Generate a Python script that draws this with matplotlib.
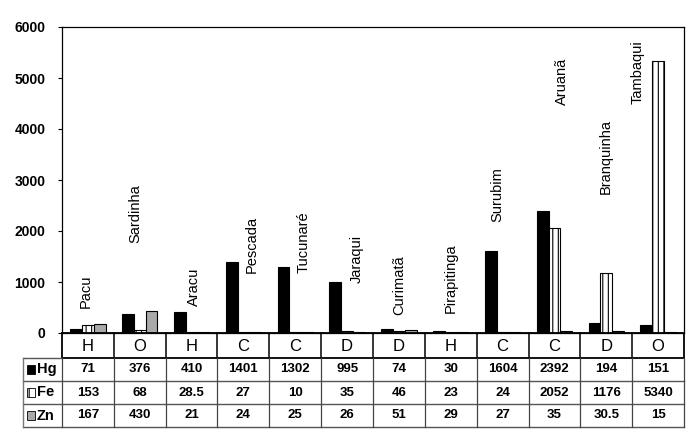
import matplotlib
matplotlib.use("Agg")
import matplotlib.pyplot as plt
import matplotlib.transforms as mtransforms
from matplotlib.patches import Rectangle
import numpy as np

plt.rcParams['font.family'] = ['Liberation Sans', 'DejaVu Sans']
plt.rcParams['hatch.linewidth'] = 0.8

fish = ["Pacu", "Sardinha", "Aracu", "Pescada", "Tucunaré", "Jaraqui",
        "Curimatã", "Pirapitinga", "Surubim", "Aruanã", "Branquinha", "Tambaqui"]
diet = ["H", "O", "H", "C", "C", "D", "D", "H", "C", "C", "D", "O"]
hg = [71, 376, 410, 1401, 1302, 995, 74, 30, 1604, 2392, 194, 151]
fe = [153, 68, 28.5, 27, 10, 35, 46, 23, 24, 2052, 1176, 5340]
zn = [167, 430, 21, 24, 25, 26, 51, 29, 27, 35, 30.5, 15]
hg_txt = ["71", "376", "410", "1401", "1302", "995", "74", "30", "1604", "2392", "194", "151"]
fe_txt = ["153", "68", "28.5", "27", "10", "35", "46", "23", "24", "2052", "1176", "5340"]
zn_txt = ["167", "430", "21", "24", "25", "26", "51", "29", "27", "35", "30.5", "15"]
yticks = [0, 1000, 2000, 3000, 4000, 5000, 6000]

# label placement (layout only)
label_y = [490, 1765, 530, 1180, 1180, 980, 350, 390, 2180, 4470, 2720, 4500]
label_dx = [-0.04, -0.09, 0.04, 0.17, 0.17, 0.19, 0.0, 0.0, -0.1, 0.15, 0.0, -0.4]

fig = plt.figure(figsize=(7, 4.43), dpi=100)
ax = fig.add_axes([62/700, 1 - 333/443, (684-62)/700, (333-27)/443])

x = np.arange(len(fish))
w = 0.228
ax.bar(x - w, hg, w, color='black', edgecolor='black', linewidth=0.8)
ax.bar(x, fe, w, color='white', edgecolor='black', linewidth=0.8, hatch='|||')
ax.bar(x + w, zn, w, color='#a9a9a9', edgecolor='black', linewidth=0.8)

ax.set_xlim(-0.5, len(fish) - 0.5)
ax.set_ylim(0, 6000)
ax.set_yticks(yticks)
ax.set_yticklabels([str(t) for t in yticks], fontweight='bold', fontsize=10)
ax.tick_params(axis='y', direction='out', length=3, width=0.8, pad=9)
ax.set_xticks([])
for s in ax.spines.values():
    s.set_linewidth(0.9)

for i, name in enumerate(fish):
    ax.text(i + label_dx[i], label_y[i], name, rotation=90, ha='center', va='bottom',
            fontsize=10.5)

# table below
tr = mtransforms.blended_transform_factory(ax.transData, ax.transAxes)
px_y = 1.0 / 306.0
y_h0, y_h1 = 0.0, -25 * px_y
y_rows = [y_h1, -48 * px_y, -71 * px_y, -94 * px_y]
x_left = -0.5 - 39 / 51.83
x_right = len(fish) - 0.5

# diet row box
ax.plot([-0.5, x_right, x_right, -0.5, -0.5], [y_h0, y_h0, y_h1, y_h1, y_h0],
        transform=tr, color='black', lw=1.3, clip_on=False)
for b in range(1, len(fish)):
    ax.plot([b - 0.5, b - 0.5], [y_h0, y_h1], transform=tr, color='black', lw=1.1, clip_on=False)
for i, d in enumerate(diet):
    ax.text(i, (y_h0 + y_h1) / 2 - 1 * px_y, d, transform=tr, ha='center', va='center',
            fontsize=12)

# data rows
for yy in y_rows[1:]:
    ax.plot([x_left, x_right], [yy, yy], transform=tr, color='#555555', lw=1.0, clip_on=False)
ax.plot([x_left, -0.5], [y_rows[0], y_rows[0]], transform=tr, color='#555555', lw=1.0, clip_on=False)
ax.plot([x_left, x_left], [y_rows[0], y_rows[-1]], transform=tr, color='#777777', lw=1.0, clip_on=False)
for b in range(0, len(fish) + 1):
    ax.plot([b - 0.5, b - 0.5], [y_rows[0], y_rows[-1]], transform=tr,
            color='#444444', lw=0.9, clip_on=False)

rows = [hg_txt, fe_txt, zn_txt]
names = ["Hg", "Fe", "Zn"]
for r in range(3):
    yc = (y_rows[r] + y_rows[r + 1]) / 2
    for i in range(len(fish)):
        ax.text(i, yc, rows[r][i], transform=tr, ha='center', va='center',
                fontsize=9.5, fontweight='bold')
    ax.text(x_left + 0.27, yc, names[r], transform=tr, ha='left', va='center',
            fontsize=10.5, fontweight='bold')
    kx = x_left + 0.08
    ks = 8 / 51.83
    kh = 9 * px_y
    if r == 0:
        rect = Rectangle((kx, yc - kh / 2), ks, kh, transform=tr, facecolor='black',
                         edgecolor='black', lw=0.6, clip_on=False)
    elif r == 1:
        rect = Rectangle((kx, yc - kh / 2), ks, kh, transform=tr, facecolor='white',
                         edgecolor='black', lw=0.6, hatch='||', clip_on=False)
    else:
        rect = Rectangle((kx, yc - kh / 2), ks, kh, transform=tr, facecolor='#a9a9a9',
                         edgecolor='black', lw=0.6, clip_on=False)
    ax.add_patch(rect)

fig.savefig("out.png", dpi=100)
